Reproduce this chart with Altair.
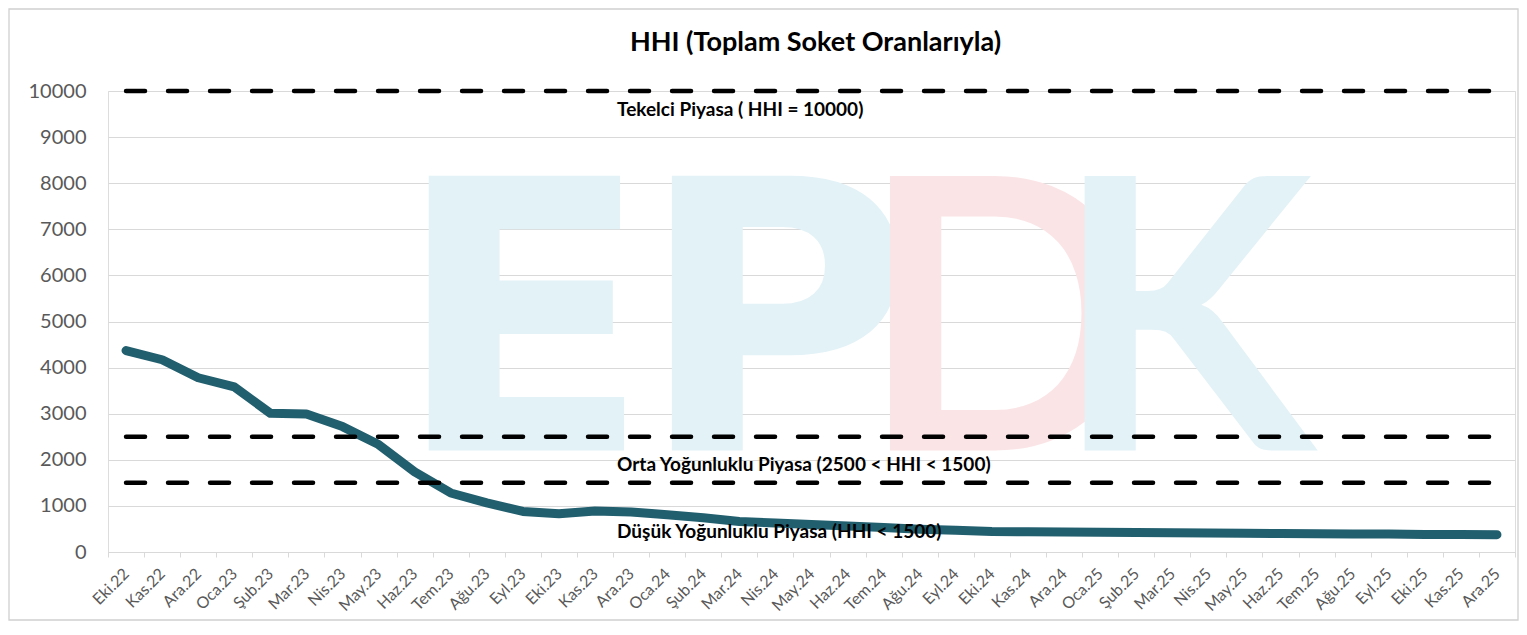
import altair as alt
import pandas as pd

months = ["Eki.22","Kas.22","Ara.22","Oca.23","Şub.23","Mar.23","Nis.23","May.23","Haz.23","Tem.23",
          "Ağu.23","Eyl.23","Eki.23","Kas.23","Ara.23","Oca.24","Şub.24","Mar.24","Nis.24","May.24",
          "Haz.24","Tem.24","Ağu.24","Eyl.24","Eki.24","Kas.24","Ara.24","Oca.25","Şub.25","Mar.25",
          "Nis.25","May.25","Haz.25","Tem.25","Ağu.25","Eyl.25","Eki.25","Kas.25","Ara.25"]
hhi = [4370, 4170, 3780, 3580, 3010, 2995, 2720, 2330, 1740, 1280,
       1065, 880, 830, 890, 870, 810, 745, 660, 630, 595,
       565, 530, 495, 470, 445, 440, 435, 430, 425, 415,
       410, 405, 402, 395, 390, 388, 382, 378, 376]

threshold_values = [10000, 2500, 1500]
threshold_names = ["Tekelci", "Orta", "Düşük"]

label_texts = ["Tekelci Piyasa ( HHI = 10000)",
               "Orta Yoğunluklu Piyasa (2500 < HHI < 1500)",
               "Düşük Yoğunluklu Piyasa (HHI < 1500)"]
label_values = [9580, 1880, 430]
label_anchor = "Kas.23"

title_text = "HHI (Toplam Soket Oranlarıyla)"
title_value = 11040

wm_letters = ["E", "P", "D", "K"]
wm_anchor = ["Eyl.23", "Nis.24", "Eki.24", "Mar.25"]
wm_colors = ["#E3F2F7", "#E3F2F7", "#FBE4E6", "#E3F2F7"]
wm_group = ["a", "a", "b", "b"]
wm_value = 2200

df = pd.DataFrame({"month": months, "hhi": hhi})
thr = pd.DataFrame([{"month": m, "value": v, "name": n}
                    for v, n in zip(threshold_values, threshold_names) for m in months])
lab = pd.DataFrame({"month": [label_anchor] * 3, "value": label_values, "text": label_texts})
wm = pd.DataFrame({"month": wm_anchor, "value": [wm_value] * 4, "letter": wm_letters,
                   "color": wm_colors, "grp": wm_group})
ttl = pd.DataFrame({"value": [title_value], "text": [title_text]})

FONT = "Lato"
W, H = 1407, 461

xscale = alt.Scale(domain=months, paddingInner=0, paddingOuter=0)
x = alt.X("month:N", scale=xscale, sort=months, title=None,
          axis=alt.Axis(labelAngle=-45, labelFont=FONT, labelFontSize=16, labelColor="#595959",
                        tickBand="extent", tickColor="#D9D9D9", tickSize=5, domainColor="#D9D9D9",
                        grid=False, labelPadding=14))
yscale = alt.Scale(domain=[0, 10000], nice=False)

frame = alt.Chart(pd.DataFrame({"k": [0]})).mark_rect(
    filled=False, stroke="#D0D0D0", strokeWidth=1.3
).encode(x=alt.value(-99), x2=alt.value(W + 3), y=alt.value(-82), y2=alt.value(H + 68))

wm_enc = dict(
    x=alt.X("month:N", scale=xscale, sort=months),
    y=alt.Y("value:Q", scale=yscale),
    text="letter:N",
    color=alt.Color("color:N", scale=None),
)
watermark_a = alt.Chart(wm).transform_filter(alt.datum.grp == "a").mark_text(
    font="DejaVu Sans", fontWeight="bold", fontSize=377, align="center", baseline="alphabetic", dx=0
).encode(**wm_enc)
watermark_b = alt.Chart(wm).transform_filter(alt.datum.grp == "b").mark_text(
    font=FONT, fontWeight="bold", fontSize=380, align="center", baseline="alphabetic", dx=12
).encode(**wm_enc)

base_line = alt.Chart(df).mark_line(
    color="#215E6E", strokeWidth=9, strokeCap="round", strokeJoin="round"
).encode(
    x=x,
    y=alt.Y("hhi:Q", scale=yscale, title=None,
            axis=alt.Axis(values=list(range(0, 10001, 1000)), format="d", labelFont=FONT,
                          labelFontSize=20, labelColor="#595959", ticks=False, domain=False,
                          gridColor="#D9D9D9", gridWidth=1, labelPadding=22)),
)

dash = alt.Chart(thr).mark_line(
    color="black", strokeWidth=4.5, strokeDash=[19, 23], strokeCap="round"
).encode(
    x=alt.X("month:N", scale=xscale, sort=months),
    y=alt.Y("value:Q", scale=yscale),
    detail="name:N",
)

labels = alt.Chart(lab).mark_text(
    font=FONT, fontWeight="bold", fontSize=19, align="left", baseline="middle", dx=22, color="black"
).encode(
    x=alt.X("month:N", scale=xscale, sort=months),
    y=alt.Y("value:Q", scale=yscale),
    text="text:N",
)

title = alt.Chart(ttl).mark_text(
    font=FONT, fontWeight="bold", fontSize=27, align="center", baseline="middle", color="black"
).encode(
    x=alt.value(W / 2 + 4),
    y=alt.Y("value:Q", scale=yscale),
    text="text:N",
)

chart = alt.layer(frame, watermark_a, watermark_b, base_line, dash, labels, title).properties(
    width=W, height=H,
    autosize=alt.AutoSizeParams(type="none"),
    padding={"left": 100, "top": 83, "right": 4, "bottom": 70},
).configure_view(stroke=None).configure(background="white")

chart.save("out.html", embed_options={"renderer": "svg", "actions": False})
